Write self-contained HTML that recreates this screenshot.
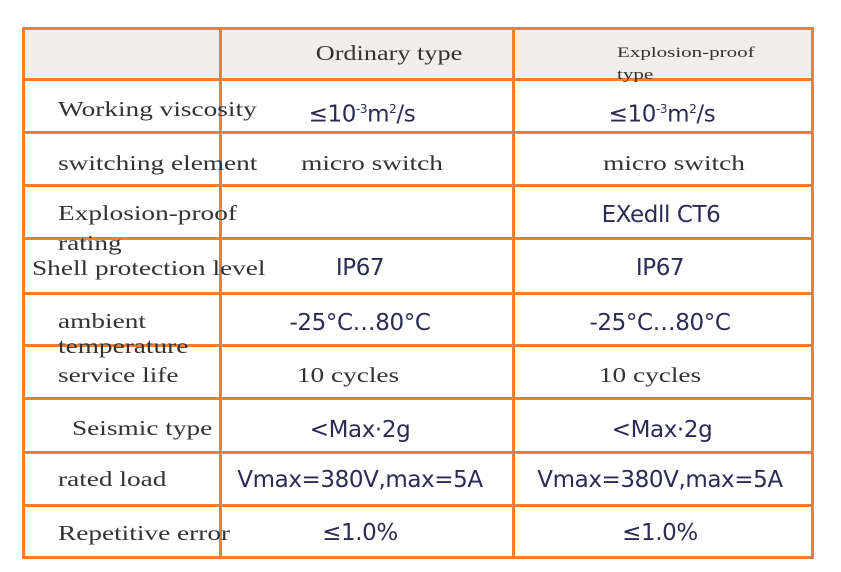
<!DOCTYPE html><html><head><style>
body{margin:0;width:841px;height:572px;background:#fff;position:relative;overflow:hidden}
.l{position:absolute;background:#fb7f2a}
.t{position:absolute;white-space:nowrap;font-family:"Liberation Serif",serif;font-size:21px;color:#333;line-height:20px;transform:scaleX(1.3);transform-origin:0 0}
.s{font-family:"DejaVu Sans","Liberation Sans",sans-serif;color:#2b2b55;font-size:23px;letter-spacing:-0.4px}
.c{transform:translateX(-50%) scaleX(1.3);transform-origin:50% 0}
.s.c{transform:translateX(-50%)}
</style></head><body>
<div style="position:absolute;left:23px;top:28px;width:790px;height:51px;background:#f2eee8"></div>
<div class="l" style="left:22px;top:27px;width:3px;height:532px"></div>
<div class="l" style="left:219px;top:27px;width:3px;height:532px"></div>
<div class="l" style="left:512px;top:27px;width:3px;height:532px"></div>
<div class="l" style="left:811px;top:27px;width:3px;height:532px"></div>
<div class="l" style="left:22px;top:27px;width:792px;height:3px"></div>
<div class="l" style="left:22px;top:78px;width:792px;height:3px"></div>
<div class="l" style="left:22px;top:131px;width:792px;height:3px"></div>
<div class="l" style="left:22px;top:184px;width:792px;height:3px"></div>
<div class="l" style="left:22px;top:237px;width:792px;height:3px"></div>
<div class="l" style="left:22px;top:292px;width:792px;height:3px"></div>
<div class="l" style="left:22px;top:344px;width:792px;height:3px"></div>
<div class="l" style="left:22px;top:397px;width:792px;height:3px"></div>
<div class="l" style="left:22px;top:451px;width:792px;height:3px"></div>
<div class="l" style="left:22px;top:504px;width:792px;height:3px"></div>
<div class="l" style="left:22px;top:556px;width:792px;height:3px"></div>

<div class="t c" style="left:389px;top:43px;transform:translateX(-50%) scaleX(1.25)">Ordinary type</div>
<div class="t" style="left:617px;top:42px;font-size:15px;line-height:22px;transform:scaleX(1.4)">Explosion-proof<br>type</div>

<div class="t" style="left:58px;top:99px">Working viscosity</div>
<div class="t s c" style="left:362px;top:99px">≤10<sup style="font-size:12px">-3</sup>m<sup style="font-size:12px">2</sup>/s</div>
<div class="t s c" style="left:662px;top:99px">≤10<sup style="font-size:12px">-3</sup>m<sup style="font-size:12px">2</sup>/s</div>

<div class="t" style="left:58px;top:153px">switching element</div>
<div class="t c" style="left:372px;top:153px">micro switch</div>
<div class="t c" style="left:674px;top:153px">micro switch</div>

<div class="t" style="left:58px;top:203px">Explosion-proof</div>
<div class="t" style="left:58px;top:233px">rating</div>
<div class="t s c" style="left:661px;top:205px">EXedll CT6</div>

<div class="t" style="left:32px;top:258px">Shell protection level</div>
<div class="t s c" style="left:360px;top:258px">IP67</div>
<div class="t s c" style="left:660px;top:258px">IP67</div>

<div class="t" style="left:58px;top:311px">ambient</div>
<div class="t" style="left:58px;top:336px">temperature</div>
<div class="t s c" style="left:360px;top:313px">-25°C…80°C</div>
<div class="t s c" style="left:660px;top:313px">-25°C…80°C</div>

<div class="t" style="left:58px;top:365px">service life</div>
<div class="t c" style="left:348px;top:365px">10 cycles</div>
<div class="t c" style="left:650px;top:365px">10 cycles</div>

<div class="t" style="left:72px;top:418px">Seismic type</div>
<div class="t s c" style="left:360px;top:420px">&lt;Max·2g</div>
<div class="t s c" style="left:662px;top:420px">&lt;Max·2g</div>

<div class="t" style="left:58px;top:469px">rated load</div>
<div class="t s c" style="left:360px;top:470px">Vmax=380V,max=5A</div>
<div class="t s c" style="left:660px;top:470px">Vmax=380V,max=5A</div>

<div class="t" style="left:58px;top:523px">Repetitive error</div>
<div class="t s c" style="left:360px;top:523px">≤1.0%</div>
<div class="t s c" style="left:660px;top:523px">≤1.0%</div>
</body></html>
